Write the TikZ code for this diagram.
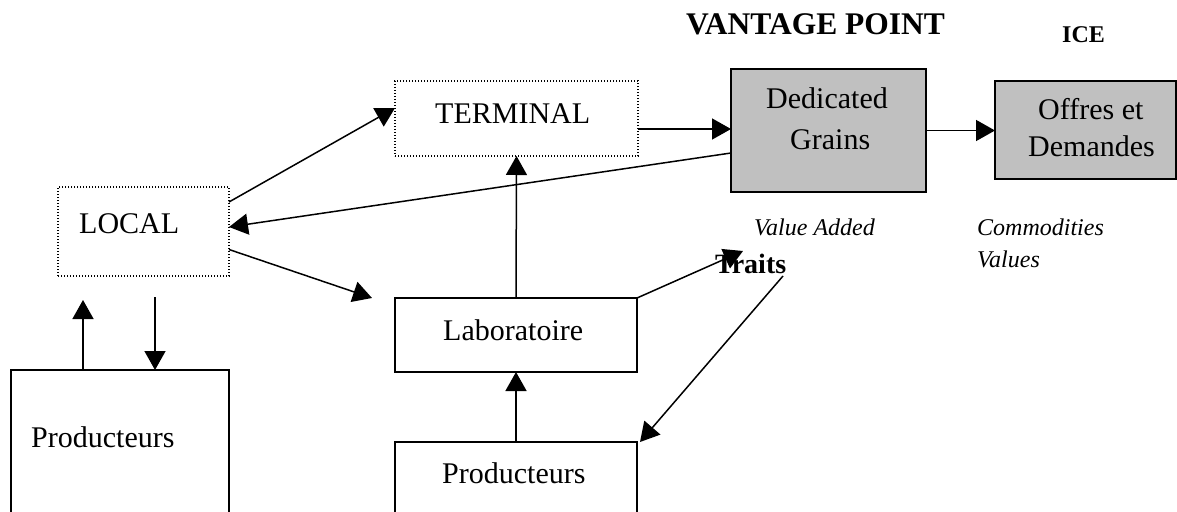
\documentclass[tikz,border=0pt]{standalone}
\usepackage{fontspec}
\setmainfont{Liberation Serif}
\usetikzlibrary{arrows.meta,calc}
\definecolor{boxgray}{HTML}{C0C0C0}
\tikzset{
  box/.style={draw,line width=1.5pt,rectangle,inner sep=0pt,outer sep=0pt,anchor=north west},
  dotbox/.style={box,line width=1.4pt,dash pattern=on 1.2pt off 1.8pt},
  graybox/.style={box,fill=boxgray},
  lbl/.style={inner sep=0pt,anchor=base west,font=\fontsize{30}{38}\selectfont},
  note/.style={inner sep=0pt,anchor=base west,font=\fontsize{24}{30}\selectfont\itshape},
  conn/.style={line width=1.5pt,-{Triangle[length=19pt,width=21pt]}}
}
\begin{document}
\begin{tikzpicture}[x=1pt,y=-1pt]
\clip (0,0) rectangle (1177,511);
\fill[white] (0,0) rectangle (1177,511);
% boxes
\node[dotbox,minimum width=171pt,minimum height=89pt] (local) at (58,187) {};
\node[dotbox,minimum width=243pt,minimum height=75pt] (terminal) at (395,81) {};
\node[graybox,minimum width=195pt,minimum height=123pt] (ded) at (731,69) {};
\node[graybox,minimum width=181pt,minimum height=98pt] (offres) at (995,81) {};
\node[box,minimum width=242pt,minimum height=74pt] (lab) at (395,298) {};
\node[box,minimum width=242pt,minimum height=90pt] (prodm) at (395,442) {};
\node[box,minimum width=218pt,minimum height=160pt] (prodl) at (11,370) {};
% texts
\node[lbl] (tlocal) at (79,233) {LOCAL};
\node[lbl] (tterm) at (435,123) {TERMINAL};
\node[lbl] (tded1) at (766,108) {Dedicated};
\node[lbl] (tded2) at (790,149) {Grains};
\node[lbl] (toff1) at (1038,119) {Offres et};
\node[lbl] (toff2) at (1028,156) {Demandes};
\node[lbl] (tlab) at (443,340) {Laboratoire};
\node[lbl] (tprodm) at (442,483) {Producteurs};
\node[lbl] (tprodl) at (31,447) {Producteurs};
\node[lbl,font=\fontsize{31.5}{36}\selectfont\bfseries] (vp) at (686,35) {VANTAGE POINT};
\node[lbl,font=\fontsize{24}{30}\selectfont\bfseries] (ice) at (1062,43) {ICE};
\node[note] (va) at (754,235) {Value Added};
\node[note] (com) at (977,235) {Commodities};
\node[note] (val) at (977,267) {Values};
\node[lbl,font=\fontsize{28}{34}\selectfont\bfseries] (traits) at (715,273) {Traits};
% coordinates
\coordinate (tr1) at (743,251);
\coordinate (tr2) at (783,276);
\coordinate (lup) at (83,300);
\coordinate (ldn) at (155,297);
% connectors
\draw[conn] ([yshift=29.5pt]local.east) -- ([yshift=10.5pt]terminal.west);
\draw[conn] ([yshift=-22.5pt]ded.west) -- ([yshift=4.5pt]local.east);
\draw[conn] ([yshift=-18pt]local.east) -- ([xshift=-23pt]lab.north west);
\draw[conn] ([yshift=-10.5pt]terminal.east) -- ([yshift=-10.5pt]terminal.east -| ded.west);
\draw[conn] (ded.east) -- (ded.east -| offres.west);
\draw[conn] (lab.north) -- (terminal.south);
\draw[conn] (prodm.north) -- (lab.south);
\draw[conn] (lab.north east) -- (tr1);
\draw[conn] (tr2) -- ([xshift=3pt]prodm.north east);
\draw[conn] (prodl.north -| lup) -- (lup);
\draw[conn] (ldn) -- (prodl.north -| ldn);
\end{tikzpicture}
\end{document}
